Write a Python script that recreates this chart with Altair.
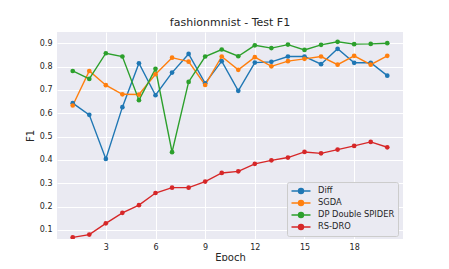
import altair as alt
import pandas as pd

epochs = list(range(1, 21))
series_names = ["Diff", "SGDA", "DP Double SPIDER", "RS-DRO"]
colors = ["#1f77b4", "#ff7f0e", "#2ca02c", "#d62728"]

diff = [0.643, 0.593, 0.404, 0.626, 0.814, 0.677, 0.774, 0.854, 0.728, 0.823,
        0.696, 0.817, 0.820, 0.843, 0.843, 0.810, 0.876, 0.816, 0.816, 0.761]
sgda = [0.633, 0.781, 0.720, 0.681, 0.680, 0.767, 0.838, 0.821, 0.721, 0.843,
        0.786, 0.840, 0.801, 0.823, 0.833, 0.843, 0.808, 0.846, 0.808, 0.846]
dp_spider = [0.781, 0.747, 0.857, 0.843, 0.656, 0.790, 0.433, 0.734, 0.843, 0.873,
             0.844, 0.891, 0.879, 0.894, 0.871, 0.893, 0.906, 0.896, 0.897, 0.900]
rs_dro = [0.068, 0.080, 0.128, 0.173, 0.206, 0.258, 0.281, 0.281, 0.307, 0.344,
          0.351, 0.383, 0.398, 0.410, 0.434, 0.428, 0.444, 0.460, 0.477, 0.454]

x_ticks = [3, 6, 9, 12, 15, 18]
y_ticks = [0.1, 0.2, 0.3, 0.4, 0.5, 0.6, 0.7, 0.8, 0.9]

rows = []
for name, vals in zip(series_names, [diff, sgda, dp_spider, rs_dro]):
    for e, v in zip(epochs, vals):
        rows.append({"Epoch": e, "F1": v, "series": name})
df = pd.DataFrame(rows)

# legend glyph: a line with a dot (unit = 5px at symbolSize 100)
legend_path = ("M-1.9,0L1.9,0"
               "M-0.5,0A0.5,0.5,0,1,0,0.5,0A0.5,0.5,0,1,0,-0.5,0"
               "M-0.25,0A0.25,0.25,0,1,0,0.25,0A0.25,0.25,0,1,0,-0.25,0")

x_enc = alt.X("Epoch:Q",
              scale=alt.Scale(domain=[0.05, 20.95], nice=False, zero=False),
              axis=alt.Axis(values=x_ticks, title="Epoch", format="d"))
y_enc = alt.Y("F1:Q",
              scale=alt.Scale(domain=[0.061, 0.948], nice=False, zero=False),
              axis=alt.Axis(values=y_ticks, title="F1", format=".1f"))
color_scale = alt.Scale(domain=series_names, range=colors)

base = alt.Chart(df)
lines = base.mark_line(strokeWidth=1.4, clip=True).encode(
    x=x_enc, y=y_enc,
    color=alt.Color("series:N", scale=color_scale, sort=series_names,
                    legend=alt.Legend(
                        title=None, orient="none", legendX=230, legendY=150,
                        symbolType=legend_path, symbolSize=100,
                        symbolOffset=5, symbolStrokeWidth=1.4,
                        labelFontSize=8.3, labelColor="#262626",
                        labelFont="DejaVu Sans",
                        padding=3, rowPadding=0, labelOffset=11,
                        fillColor="#EAEAF2", strokeColor="#CCCCCC",
                        cornerRadius=2)),
    detail="series:N",
)
points = base.mark_circle(size=22, opacity=1, clip=True).encode(
    x=x_enc, y=y_enc,
    color=alt.Color("series:N", scale=color_scale, legend=None),
)

chart = alt.layer(lines, points).properties(
    width=346, height=207,
    title=alt.TitleParams("fashionmnist - Test F1", fontSize=11, font="DejaVu Sans",
                          fontWeight="normal", color="#262626", offset=4,
                          anchor="middle"),
    autosize=alt.AutoSizeParams(type="none"),
    padding={"left": 49, "top": 24, "right": 38, "bottom": 22},
).configure_view(
    fill="#EAEAF2", stroke=None
).configure_axis(
    domain=False, ticks=False, grid=True, gridColor="white", gridWidth=1,
    labelFont="DejaVu Sans", labelFontSize=8, labelColor="#262626",
    titleFont="DejaVu Sans", titleFontSize=10, titleColor="#262626",
    titleFontWeight="normal"
).configure_axisX(
    labelPadding=4, titlePadding=1
).configure_axisY(
    labelPadding=5, titlePadding=4
)

chart.save("out.html", embed_options={"renderer": "svg", "actions": False})
